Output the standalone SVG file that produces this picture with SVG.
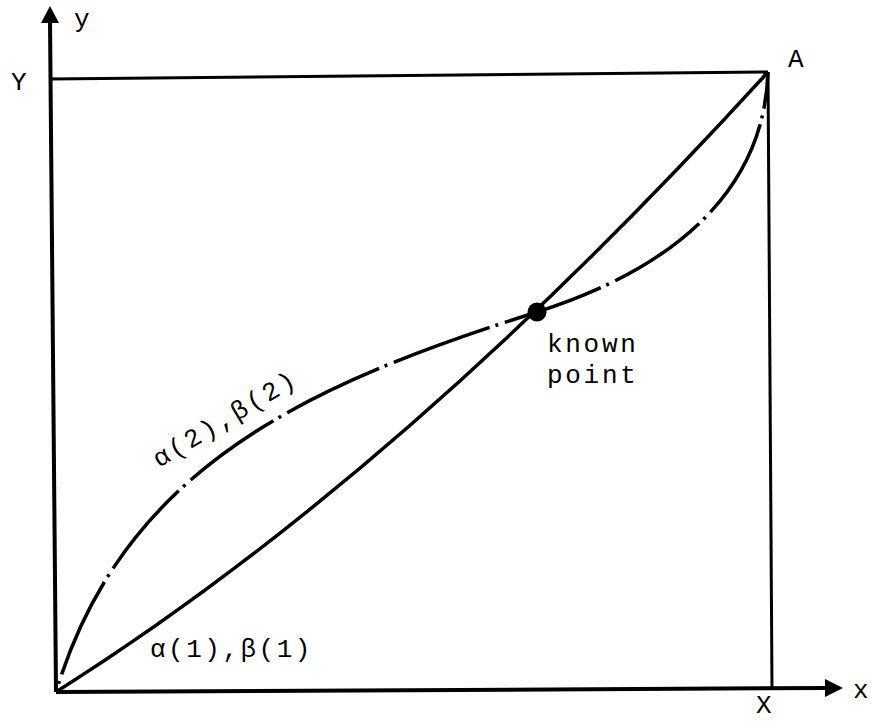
<svg xmlns="http://www.w3.org/2000/svg" width="872" height="721" viewBox="0 0 872 721">
<style>
.ax{stroke:#000;stroke-width:4;fill:none;stroke-linecap:butt}
.bx{stroke:#000;stroke-width:3;fill:none}
.cv{stroke:#000;stroke-width:3.5;fill:none}
.dd{stroke-dasharray:102 6 3 7;stroke-dashoffset:-18.5}
.t{font-family:"Liberation Mono","DejaVu Sans Mono",monospace;font-size:26px;fill:#000}
</style>
<rect width="872" height="721" fill="#fff"/>
<g id="axes">
<line class="ax" x1="56" y1="692" x2="50" y2="20"/>
<polygon points="50,6 41,23 59,23" fill="#000"/>
<line class="ax" x1="56" y1="692" x2="826" y2="688"/>
<polygon points="843,688 825,679 825,697" fill="#000"/>
<text class="t" x="74" y="27">y</text>
<text class="t" x="853" y="698">x</text>
</g>
<g id="box">
<line class="bx" x1="50" y1="79" x2="768" y2="72"/>
<line class="bx" x1="768" y1="72" x2="772" y2="688"/>
<text class="t" x="11" y="90">Y</text>
<text class="t" x="756" y="713">X</text>
<text class="t" x="788" y="67">A</text>
</g>
<g id="connectors">
<path id="curve1" class="cv" d="M56,692 Q403,473 768,72"/>
<path id="curve2" class="cv dd" d="M56,692 C125,462 317,382 537,312 C660,273 764,200 768,72"/>
</g>
<g id="known-point">
<circle cx="537" cy="312" r="9.5" fill="#000"/>
<text class="t" x="547" y="352" letter-spacing="2.7">known</text>
<text class="t" x="547" y="383" letter-spacing="2.7">point</text>
</g>
<g id="labels">
<text class="t" x="150" y="657" letter-spacing="2.5">α(1),β(1)</text>
<text class="t" transform="translate(159,468) rotate(-31)" letter-spacing="2.6">α(2),β(2)</text>
</g>
</svg>
